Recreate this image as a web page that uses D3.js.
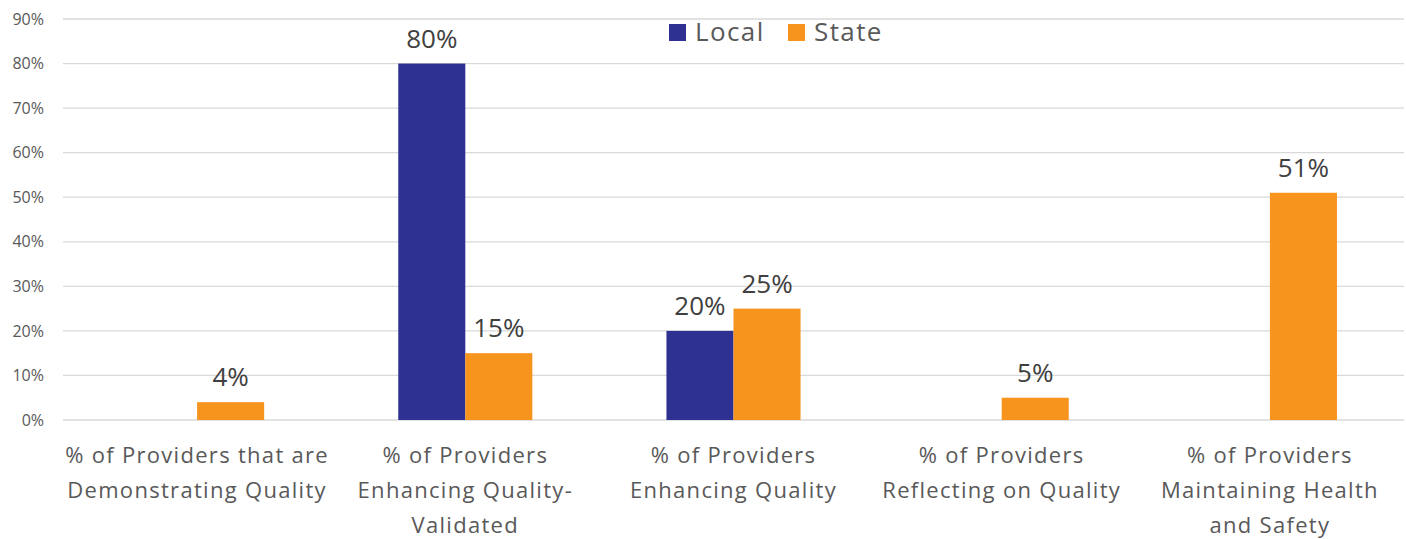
<!DOCTYPE html>
<html>
<head>
<meta charset="utf-8">
<script src="https://cdn.jsdelivr.net/npm/d3@7"></script>
<style>
  body { margin: 0; background: #fff; }
  svg { display: block; }
</style>
</head>
<body>
<svg></svg>
<script>
let categories = [
  ['% of Providers that are', 'Demonstrating Quality'],
  ['% of Providers', 'Enhancing Quality-', 'Validated'],
  ['% of Providers', 'Enhancing Quality'],
  ['% of Providers', 'Reflecting on Quality'],
  ['% of Providers', 'Maintaining Health', 'and Safety']
]
let seriesNames = ['Local', 'State']
let localValues = [null, 80, 20, null, null]
let stateValues = [4, 15, 25, 5, 51]
let yTicks = [0, 10, 20, 30, 40, 50, 60, 70, 80, 90]

let colors = ['#2E3192', '#F7941D']

let width = 1406
let height = 539
let plotLeft = 63
let plotRight = 1404
let plotTop = 19
let plotBottom = 420

let svg = d3.select('svg').attr('width', width).attr('height', height)

let xScale = d3.scaleBand()
  .domain(d3.range(categories.length))
  .range([plotLeft, plotRight])
  .paddingInner(0.5)
  .paddingOuter(0.25)

let subScale = d3.scaleBand()
  .domain(seriesNames)
  .range([0, xScale.bandwidth()])

let yScale = d3.scaleLinear()
  .domain([0, 90])
  .range([plotBottom, plotTop])

// gridlines
svg.append('g')
  .selectAll('line')
  .data(yTicks)
  .enter()
  .append('line')
  .attr('x1', plotLeft)
  .attr('x2', plotRight)
  .attr('y1', d => yScale(d))
  .attr('y2', d => yScale(d))
  .attr('stroke', '#d9d9d9')
  .attr('stroke-width', 1.3)

// y axis labels
let yAxis = d3.axisLeft(yScale).tickValues(yTicks).tickFormat(d => d + '%').tickSize(0).tickPadding(19)
let yG = svg.append('g')
  .attr('transform', 'translate(' + plotLeft + ',0)')
  .call(yAxis)
yG.select('.domain').remove()
yG.selectAll('text')
  .attr('font-family', 'Open Sans, sans-serif')
  .attr('font-size', 16)
  .attr('fill', '#595959')

// bars
let rows = categories.map((c, i) => [localValues[i], stateValues[i]])

let groups = svg.append('g')
  .selectAll('g')
  .data(rows)
  .enter()
  .append('g')
  .attr('transform', (d, i) => 'translate(' + xScale(i) + ',0)')

groups.selectAll('rect')
  .data(d => d.map((v, j) => ({ name: seriesNames[j], value: v, j: j })).filter(e => e.value !== null))
  .enter()
  .append('rect')
  .attr('x', d => subScale(d.name))
  .attr('width', subScale.bandwidth())
  .attr('y', d => yScale(d.value))
  .attr('height', d => yScale(0) - yScale(d.value))
  .attr('fill', d => colors[d.j])

groups.selectAll('text')
  .data(d => d.map((v, j) => ({ name: seriesNames[j], value: v })).filter(e => e.value !== null))
  .enter()
  .append('text')
  .attr('x', d => subScale(d.name) + subScale.bandwidth() / 2)
  .attr('y', d => yScale(d.value) - 16)
  .attr('text-anchor', 'middle')
  .attr('font-family', 'Open Sans, sans-serif')
  .attr('font-size', 26)
  .attr('fill', '#404040')
  .text(d => d.value + '%')

// category labels
let catG = svg.append('g')
categories.forEach((lines, i) => {
  let t = catG.append('text')
    .attr('text-anchor', 'middle')
    .attr('font-family', 'Open Sans, sans-serif')
    .attr('font-size', 22)
    .attr('letter-spacing', 1.3)
    .attr('fill', '#595959')
  lines.forEach((ln, k) => {
    t.append('tspan')
      .attr('x', xScale(i) + xScale.bandwidth() / 2)
      .attr('y', 463 + k * 35)
      .text(ln)
  })
})

// legend
let legendX = [669, 788]
let legend = svg.append('g')
seriesNames.forEach((name, i) => {
  legend.append('rect')
    .attr('x', legendX[i])
    .attr('y', 24)
    .attr('width', 17)
    .attr('height', 17)
    .attr('fill', colors[i])
  legend.append('text')
    .attr('x', legendX[i] + 26)
    .attr('y', 41)
    .attr('font-family', 'Open Sans, sans-serif')
    .attr('font-size', 26)
    .attr('letter-spacing', 1.4)
    .attr('fill', '#595959')
    .text(name)
})
</script>
</body>
</html>
